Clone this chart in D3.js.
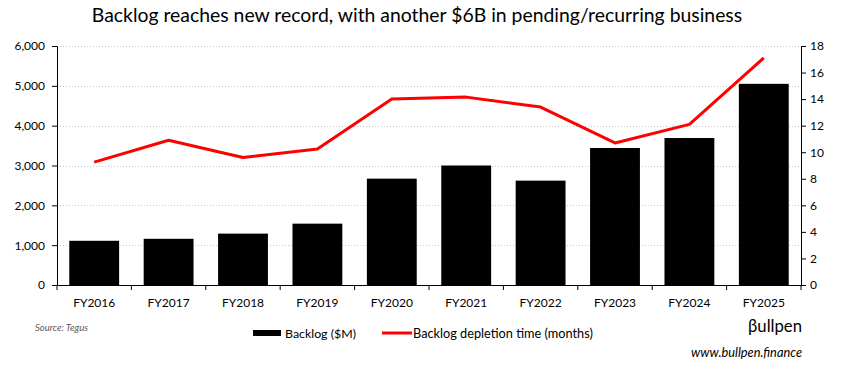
<!DOCTYPE html>
<html>
<head>
<meta charset="utf-8">
<title>Backlog</title>
<style>
    body { margin: 0; padding: 0; background: #fff; }
    svg { display: block; font-family: Lato, "Open Sans", sans-serif; }
</style>
</head>
<body>
<div id="chart"></div>
<script src="https://d3js.org/d3.v7.min.js"></script>
<script>
// data
const years = ['FY2016', 'FY2017', 'FY2018', 'FY2019', 'FY2020', 'FY2021', 'FY2022', 'FY2023', 'FY2024', 'FY2025'];
const backlog = [1110, 1160, 1290, 1540, 2670, 3000, 2620, 3440, 3690, 5050];
const depletion = [9.25, 10.9, 9.6, 10.25, 14.0, 14.15, 13.4, 10.7, 12.1, 17.1];
const leftTicks = [0, 1000, 2000, 3000, 4000, 5000, 6000];
const rightTicks = [0, 2, 4, 6, 8, 10, 12, 14, 16, 18];

const W = 841, H = 369;
const m = { top: 46, right: 40, bottom: 84, left: 57 };

const svg = d3.select('#chart').append('svg')
    .attr('width', W)
    .attr('height', H);

const x = d3.scaleBand().domain(years).range([m.left, W - m.right]).paddingInner(0.33).paddingOuter(0.165);
const xEdge = d3.scaleBand().domain(years).range([m.left, W - m.right]);
const yL = d3.scaleLinear().domain([0, 6000]).range([H - m.bottom, m.top]);
const yR = d3.scaleLinear().domain([0, 18]).range([H - m.bottom, m.top]);

// shrink / grow a text so it spans a given width
function fit(sel, width) {
    const n = sel.node();
    const fs = parseFloat(sel.attr('font-size'));
    sel.attr('font-size', fs * width / n.getComputedTextLength());
}

// title
svg.append('text')
    .attr('x', 417).attr('y', 22)
    .attr('text-anchor', 'middle')
    .attr('font-size', 17)
    .attr('fill', '#000')
    .text('Backlog reaches new record, with another $6B in pending/recurring business')
    .call(fit, 651);

// gridlines
svg.append('g').selectAll('line')
    .data(leftTicks.filter(d => d > 0))
    .join('line')
    .attr('x1', m.left).attr('x2', W - m.right)
    .attr('y1', d => Math.round(yL(d)) + 0.5).attr('y2', d => Math.round(yL(d)) + 0.5)
    .attr('stroke', '#c8c8c8')
    .attr('stroke-dasharray', '1,2');

// bars
svg.append('g').selectAll('rect')
    .data(years)
    .join('rect')
    .attr('x', (d) => x(d))
    .attr('width', x.bandwidth())
    .attr('y', (d, i) => yL(backlog[i]))
    .attr('height', (d, i) => yL(0) - yL(backlog[i]))
    .attr('fill', '#000');

// line
const line = d3.line()
    .x((d, i) => x(years[i]) + x.bandwidth() / 2)
    .y(d => yR(d));
svg.append('path')
    .datum(depletion)
    .attr('d', line)
    .attr('fill', 'none')
    .attr('stroke', '#ff0000')
    .attr('stroke-width', 3)
    .attr('stroke-linejoin', 'round');

// axes
const leftAxis = svg.append('g')
    .attr('transform', `translate(${m.left},0)`)
    .call(d3.axisLeft(yL).tickValues(leftTicks).tickFormat(d3.format(',')).tickSize(5).tickPadding(7));
const rightAxis = svg.append('g')
    .attr('transform', `translate(${W - m.right},0)`)
    .call(d3.axisRight(yR).tickValues(rightTicks).tickSize(5).tickPadding(4));
const bottomAxis = svg.append('g')
    .attr('transform', `translate(0,${H - m.bottom})`)
    .call(d3.axisBottom(x).tickSize(0).tickPadding(13));

// band edge ticks on x axis
svg.append('g').selectAll('line')
    .data(years.map(d => xEdge(d)).concat([W - m.right]))
    .join('line')
    .attr('x1', d => d).attr('x2', d => d)
    .attr('y1', H - m.bottom).attr('y2', H - m.bottom + 5)
    .attr('stroke', '#000');

[leftAxis, rightAxis, bottomAxis].forEach(a => {
    a.selectAll('text').attr('font-size', 12).attr('font-family', 'Lato, sans-serif').attr('fill', '#000');
    a.selectAll('line, path').attr('stroke', '#000');
});
bottomAxis.select('.domain').attr('d', `M${m.left},0.5H${W - m.right}`);

// legend
const lg = svg.append('g');
lg.append('rect').attr('x', 253).attr('y', 330).attr('width', 28).attr('height', 6).attr('fill', '#000');
lg.append('text').attr('x', 285).attr('y', 338).attr('font-size', 12).text('Backlog ($M)').call(fit, 71);
lg.append('line').attr('x1', 382).attr('x2', 412).attr('y1', 333).attr('y2', 333)
    .attr('stroke', '#ff0000').attr('stroke-width', 3);
lg.append('text').attr('x', 413).attr('y', 338).attr('font-size', 12).text('Backlog depletion time (months)').call(fit, 180);

// footer notes
svg.append('text')
    .attr('x', 35).attr('y', 331)
    .attr('font-size', 10)
    .attr('font-style', 'italic')
    .attr('fill', '#595959')
    .text('Source: Tegus')
    .call(fit, 53);
svg.append('text')
    .attr('x', 802).attr('y', 332)
    .attr('text-anchor', 'end')
    .attr('font-size', 20)
    .attr('fill', '#000')
    .text('βullpen')
    .call(fit, 54);
svg.append('text')
    .attr('x', 802).attr('y', 357)
    .attr('text-anchor', 'end')
    .attr('font-size', 12)
    .attr('font-style', 'italic')
    .attr('fill', '#000')
    .text('www.bullpen.finance')
    .call(fit, 111);
</script>
</body>
</html>
